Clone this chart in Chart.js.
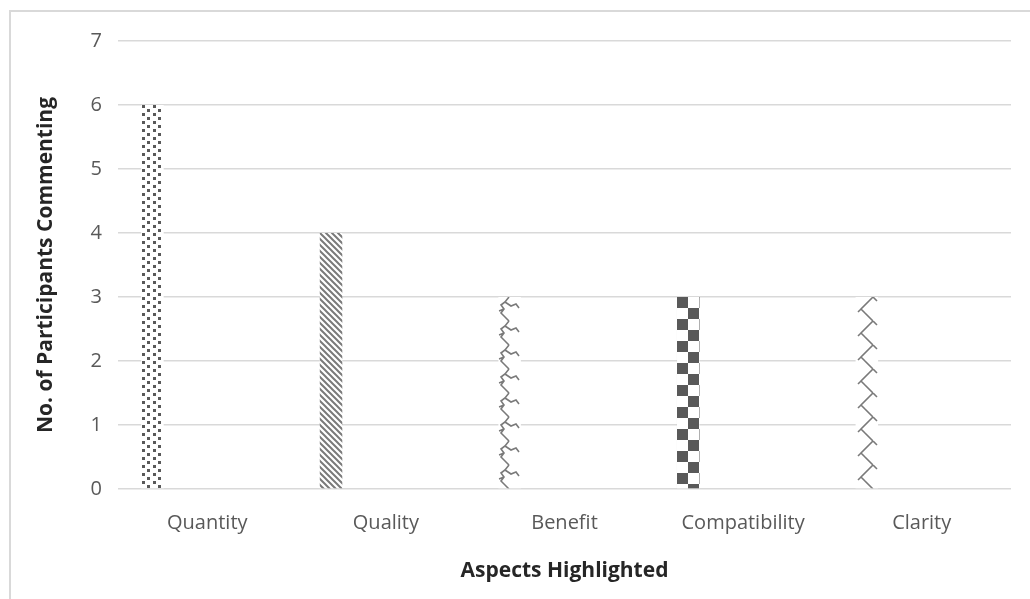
<!DOCTYPE html>
<html>
<head>
<meta charset="utf-8">
<script src="https://cdn.jsdelivr.net/npm/chart.js@4.4.0/dist/chart.umd.min.js"></script>
<style>
  html, body { margin: 0; padding: 0; background: #fff; overflow: hidden; }
  #wrap { position: relative; width: 1030px; height: 599px; }
  #frame { position: absolute; left: 9px; top: 10px; width: 1040px; height: 620px; border: 2px solid #d9d9d9; box-sizing: border-box; }
  canvas { position: absolute; left: 0; top: 0; }
</style>
</head>
<body>
<div id="wrap">
  <div id="frame"></div>
  <canvas id="chart" width="1030" height="599"></canvas>
</div>
<script>
// données
const categories = ['Quantity', 'Quality', 'Benefit', 'Compatibility', 'Clarity'];
const participants = [6, 4, 3, 3, 3];
const emptySeries = [null, null, null, null, null]; // séries vides (décalent les barres à gauche)
const yTicks = [0, 1, 2, 3, 4, 5, 6, 7];

const DARK = '#595959';
const MID = '#7a7a7a';

function makeTile(w, h, draw) {
  const c = document.createElement('canvas');
  c.width = w;
  c.height = h;
  const g = c.getContext('2d');
  g.fillStyle = '#fff';
  g.fillRect(0, 0, w, h);
  draw(g);
  return document.createElement('canvas').getContext('2d').createPattern(c, 'repeat');
}

// motifs des barres
const confetti = makeTile(11, 8, g => {
  g.fillStyle = DARK;
  g.fillRect(1, 0, 3, 3);
  g.fillRect(6, 4, 3, 3);
});
const diagonal = makeTile(6, 6, g => {
  g.strokeStyle = MID;
  g.lineWidth = 2;
  g.beginPath();
  g.moveTo(-1, -1); g.lineTo(7, 7);
  g.moveTo(-7, -1); g.lineTo(1, 7);
  g.moveTo(5, -1); g.lineTo(13, 7);
  g.stroke();
});
const wave = makeTile(23, 24, g => {
  g.strokeStyle = MID;
  g.lineWidth = 1.6;
  g.beginPath();
  g.moveTo(11, 0);
  g.lineTo(7, 5);
  g.lineTo(3, 8);
  g.lineTo(6, 12);
  g.lineTo(3, 16);
  g.lineTo(7, 20);
  g.lineTo(11, 24);
  g.moveTo(7, 5);
  g.lineTo(13, 9);
  g.lineTo(18, 7);
  g.lineTo(21, 11);
  g.moveTo(6, 12);
  g.lineTo(1, 14);
  g.stroke();
});
const checker = makeTile(22, 22, g => {
  g.fillStyle = DARK;
  g.fillRect(0, 0, 11, 11);
  g.fillRect(11, 11, 11, 11);
});
const zigzag = makeTile(23, 24, g => {
  g.strokeStyle = MID;
  g.lineWidth = 1.6;
  g.beginPath();
  g.moveTo(17, 0);
  g.lineTo(5, 12);
  g.lineTo(17, 24);
  g.moveTo(17, 0);
  g.lineTo(21, 4);
  g.moveTo(5, 12);
  g.lineTo(9, 16);
  g.moveTo(2, 15);
  g.lineTo(5, 12);
  g.stroke();
});

const barPatterns = [confetti, diagonal, wave, checker, zigzag];

// cale chaque motif sur le bord gauche de sa barre
const alignPatterns = {
  id: 'alignPatterns',
  beforeDatasetsDraw(chart) {
    const meta = chart.getDatasetMeta(0);
    meta.data.forEach((bar, i) => {
      const left = bar.x - bar.width / 2;
      barPatterns[i].setTransform(new DOMMatrix().translate(Math.round(left), Math.round(bar.y)));
    });
  }
};

const ctx = document.getElementById('chart').getContext('2d');

new Chart(ctx, {
  type: 'bar',
  data: {
    labels: categories,
    datasets: [
      { label: 'Participants', data: participants, backgroundColor: barPatterns, borderWidth: 0 },
      { label: '', data: emptySeries },
      { label: '', data: emptySeries },
      { label: '', data: emptySeries },
      { label: '', data: emptySeries }
    ]
  },
  options: {
    responsive: false,
    animation: false,
    categoryPercentage: 0.768,
    barPercentage: 0.82,
    layout: { padding: { left: 10, top: 41, right: 19, bottom: 0 } },
    plugins: {
      legend: { display: false },
      tooltip: { enabled: false }
    },
    scales: {
      x: {
        grid: { display: false, drawTicks: false },
        border: { display: false },
        ticks: { color: DARK, font: { family: 'Open Sans', size: 20 }, padding: 22 },
        title: {
          display: true,
          text: 'Aspects Highlighted',
          color: '#262626',
          font: { family: 'Open Sans', size: 21, weight: 'bold' },
          padding: { top: 0, bottom: 15 }
        },
        afterFit: s => { s.height = 110; }
      },
      y: {
        min: 0,
        max: 7,
        afterBuildTicks: s => { s.ticks = yTicks.map(v => ({ value: v })); },
        grid: { color: '#d9d9d9', lineWidth: 1.5, drawTicks: false },
        border: { display: false },
        ticks: { color: DARK, font: { family: 'Open Sans', size: 20 }, padding: 16 },
        title: {
          display: true,
          text: 'No. of Participants Commenting',
          color: '#262626',
          font: { family: 'Open Sans', size: 21, weight: 'bold' },
          padding: { top: 23, bottom: 0 }
        },
        afterFit: s => { s.width = 108; }
      }
    }
  },
  plugins: [alignPatterns]
});
</script>
</body>
</html>
